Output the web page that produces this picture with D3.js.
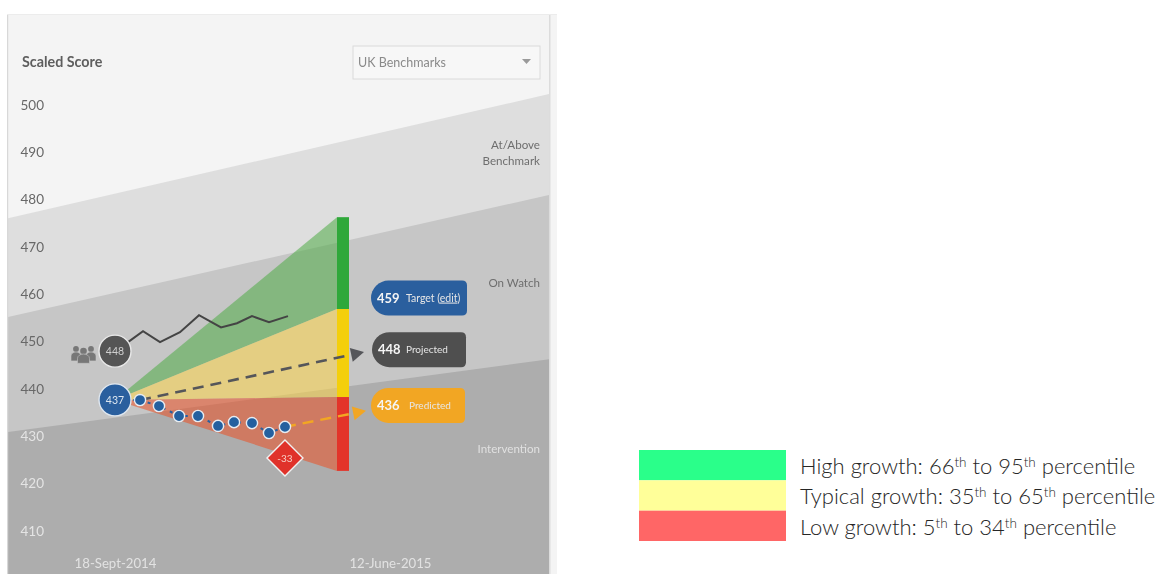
<!DOCTYPE html>
<html><head><meta charset="utf-8">
<script src="https://cdn.jsdelivr.net/npm/d3@7"></script>
<style>
html,body{margin:0;padding:0;background:#fff;overflow:hidden}
svg{display:block}
text{font-family:"Lato","Noto Sans",sans-serif}
</style></head><body>
<svg id="c" width="1160" height="574"></svg>
<script>
// --- data (x is weeks since first test, y is scaled score) ---
const scoreTicks=[500,490,480,470,460,450,440,430,420,410];
const dateLabels=[{week:0,label:"18-Sept-2014"},{week:38,label:"12-June-2015"}];
const bandWeeks=[-17.83,72.33];
const atAboveEdge=[476.1,502.3];
const onWatchEdge=[455.2,481.0];
const interventionEdge=[430.9,446.3];
const coneWeeks=[0,37];
const coneStart=437.7;
const coneEnd=[476.3,456.9,438.3,422.7];
const groupLine=[[0,448],[2.17,449.9],[4.67,452.2],[7.5,449.9],[10.83,452],[14,455.6],[17.67,453],[20.33,453.9],[22.83,455.4],[25.67,454.1],[28.83,455.4]];
const studentScores=[[4.17,437.67],[7.33,436.4],[10.67,434.3],[13.83,434.3],[17.17,432.2],[19.83,433],[22.83,432.8],[25.67,430.7],[28.33,432]];
const projectedEnd=[41.5,447.8];
const predictedEnd=[41.83,435.4];
const legendRows=[
 {color:"#2aff8a",parts:["High growth: 66","th"," to 95","th"," percentile"]},
 {color:"#ffff99",parts:["Typical growth: 35","th"," to 65","th"," percentile"]},
 {color:"#ff6666",parts:["Low growth: 5","th"," to 34","th"," percentile"]}];
const pills=[
 {value:459,label:"Target (",link:"edit",tail:")",fill:"#2a5f9e",dy:-1,x0:371,x1:467,off:35,size:10.5},
 {value:448,label:"Projected",fill:"#4f4f4f",dy:-1.5,x0:372,x1:466,off:34,size:10},
 {value:436,label:"Predicted",fill:"#f2a623",dy:-2.5,x0:371,x1:465,off:38,size:10}];

const svg=d3.select("#c");
const x=d3.scaleLinear().domain([0,38]).range([115,343]);
const y=d3.scaleLinear().domain([500,410]).range([105,531]);
const chart=svg.append("g").attr("style","filter:blur(0.6px)");

// panel
chart.append("rect").attr("x",7).attr("y",14).attr("width",550).attr("height",560).attr("fill","#f4f4f4");
const defs=svg.append("defs");
defs.append("clipPath").attr("id","p").append("rect").attr("x",8).attr("y",14).attr("width",541).attr("height",560);
const band=d3.area().x((d,i)=>x(bandWeeks[i])).y0(574).y1(d=>y(d));
const bands=chart.append("g").attr("clip-path","url(#p)");
[[atAboveEdge,"#dedede"],[onWatchEdge,"#c6c6c6"],[interventionEdge,"#adadad"]].forEach(([e,c])=>bands.append("path").attr("d",band(e)).attr("fill",c));
chart.append("rect").attr("x",7).attr("y",14).attr("width",1.2).attr("height",560).attr("fill","#d8d8d8");
chart.append("rect").attr("x",549).attr("y",14).attr("width",1.5).attr("height",560).attr("fill","#dcdcdc");
chart.append("rect").attr("x",7).attr("y",14).attr("width",550).attr("height",1).attr("fill","#ececec");

chart.append("text").attr("x",22).attr("y",67).attr("font-size",14.3).attr("font-weight",700).attr("fill","#5e5e5e").text("Scaled Score");

// dropdown
chart.append("rect").attr("x",353).attr("y",46).attr("width",187).attr("height",33).attr("fill","#f7f7f7").attr("stroke","#dadada").attr("stroke-width",1);
chart.append("text").attr("x",358).attr("y",67).attr("font-size",12.5).attr("fill","#8a8a8a").text("UK Benchmarks");
chart.append("path").attr("d","M522,59h9l-4.5,5z").attr("fill","#9a9a9a");

// axes
const yAxis=chart.append("g").attr("transform","translate(44,0)")
 .call(d3.axisLeft(y).tickValues(scoreTicks).tickSize(0).tickPadding(0));
yAxis.select(".domain").remove();
yAxis.selectAll("text").attr("font-size",13.5).attr("font-family","Lato,sans-serif")
 .attr("fill",d=>d<=430?"#e4e4e4":"#686868");
const xAxis=chart.append("g").attr("transform","translate(0,560)")
 .call(d3.axisBottom(x).tickValues(dateLabels.map(d=>d.week)).tickFormat(w=>dateLabels.find(d=>d.week===w).label).tickSize(0).tickPadding(0));
xAxis.select(".domain").remove();
xAxis.selectAll("text").attr("font-size",13.2).attr("font-family","Lato,sans-serif").attr("fill","#e2e2e2")
 .attr("dy","0.6em").attr("dx",d=>d===38?47:0);

// band labels
[["At/Above",149,"#6e6e6e"],["Benchmark",165,"#6e6e6e"],["On Watch",287,"#6e6e6e"],["Intervention",453,"#e0e0e0"]].forEach(([t,py,c])=>
 chart.append("text").attr("x",540).attr("y",py).attr("text-anchor","end").attr("font-size",11.6).attr("fill",c).text(t));

// cone
const cone=[[coneEnd[0],coneEnd[1],"#4eac45"],[coneEnd[1],coneEnd[2],"#fed64a"],[coneEnd[2],coneEnd[3],"#eb5024"]];
const coneArea=d3.area().x(d=>x(d.w)).y0(d=>y(d.lo)).y1(d=>y(d.hi));
cone.forEach(([hi,lo,c])=>chart.append("path")
 .attr("d",coneArea([{w:coneWeeks[0],hi:coneStart,lo:coneStart},{w:coneWeeks[1],hi,lo}]))
 .attr("fill",c).attr("fill-opacity",0.55));
// gauge bar
const barColors=["#2fa83a","#f4cf0b","#e3342a"];
cone.forEach(([hi,lo],i)=>chart.append("rect").attr("x",x(38)-6).attr("width",12)
 .attr("y",y(hi)).attr("height",y(lo)-y(hi)).attr("fill",barColors[i]));

const ln=d3.line().x(d=>x(d[0])).y(d=>y(d[1]));
// group line
chart.append("path").attr("d",ln(groupLine)).attr("fill","none").attr("stroke","#444").attr("stroke-width",2);

// arrows
function arrow(a,b,c,w){
 const p=[x(a[0]),y(a[1])],q=[x(b[0]),y(b[1])],ang=Math.atan2(q[1]-p[1],q[0]-p[0]);
 const L=13,H=7,bx=q[0]-L*Math.cos(ang),by=q[1]-L*Math.sin(ang);
 chart.append("line").attr("x1",p[0]).attr("y1",p[1]).attr("x2",bx).attr("y2",by)
  .attr("stroke",c).attr("stroke-width",w).attr("stroke-dasharray","11,7");
 chart.append("path").attr("d",`M${q}L${bx-H*Math.sin(ang)},${by+H*Math.cos(ang)}L${bx+H*Math.sin(ang)},${by-H*Math.cos(ang)}Z`).attr("fill",c);
}
arrow(studentScores[0],projectedEnd,"#55565a",2.6);
arrow(studentScores[8],predictedEnd,"#f2a623",2.4);
chart.append("path").attr("d",ln(studentScores)).attr("fill","none").attr("stroke","#2a5f9e").attr("stroke-width",2).attr("stroke-dasharray","3,5");
chart.append("line").attr("x1",x(0)).attr("y1",y(coneStart)).attr("x2",x(4.17)).attr("y2",y(437.67)).attr("stroke","#2a5f9e").attr("stroke-width",2).attr("stroke-dasharray","3,3");

// student points
chart.selectAll("circle.s").data(studentScores).join("circle").attr("class","s")
 .attr("cx",d=>x(d[0])).attr("cy",d=>y(d[1])).attr("r",5.6)
 .attr("fill","#24609f").attr("stroke","#e6ecf2").attr("stroke-width",1.4);

// start circles
chart.append("circle").attr("cx",x(0)).attr("cy",y(448)).attr("r",16).attr("fill","#555").attr("stroke","#e8e8e8").attr("stroke-width",1.4);
chart.append("text").attr("x",x(0)).attr("y",y(448)+4).attr("text-anchor","middle").attr("font-size",10.5).attr("fill","#cfcfcf").text("448");
chart.append("circle").attr("cx",x(0)).attr("cy",y(coneStart)).attr("r",16).attr("fill","#2a5f9e").attr("stroke","#dfe7f0").attr("stroke-width",1.4);
chart.append("text").attr("x",x(0)).attr("y",y(coneStart)+4).attr("text-anchor","middle").attr("font-size",10.5).attr("fill","#dce6f0").text("437");

// people icon
const icon=chart.append("g").attr("fill","#777");
[[76,349,2.9,10],[91,349,2.9,10],[83.5,351,3.3,12]].forEach(([cx,cy,r,w])=>{
 icon.append("circle").attr("cx",cx).attr("cy",cy).attr("r",r);
 icon.append("path").attr("d",`M${cx-w/2},${cy+r+9}v-5a${w/2},${r+1} 0 0 1 ${w},0v5z`).attr("stroke","#c6c6c6").attr("stroke-width",.6);
});

// deviation diamond
const dx=x(28.33),dy=y(425.4);
chart.append("path").attr("d",`M${dx},${dy-18}L${dx+18},${dy}L${dx},${dy+18}L${dx-18},${dy}Z`).attr("fill","#e0322a").attr("stroke","#f1f1f1").attr("stroke-width",1.4);
chart.append("text").attr("x",dx).attr("y",dy+4).attr("text-anchor","middle").attr("font-size",10).attr("fill","#f7d0c8").text("-33");

// value pills
pills.forEach(p=>{
 const cy=y(p.value)+p.dy,h=35,t=cy-h/2,b=cy+h/2,r=5;
 chart.append("path").attr("d",`M${p.x0+h/2},${t}H${p.x1-r}Q${p.x1},${t} ${p.x1},${t+r}V${b-r}Q${p.x1},${b} ${p.x1-r},${b}H${p.x0+h/2}A${h/2},${h/2} 0 0 1 ${p.x0+h/2},${t}Z`).attr("fill",p.fill);
 chart.append("text").attr("x",p.x0+6).attr("y",cy+4.5).attr("font-size",13).attr("font-weight",700).attr("fill","#f5f5f5").text(p.value);
 const tx=chart.append("text").attr("x",p.x0+p.off).attr("y",cy+3.5).attr("font-size",p.size).attr("fill","#e6e6e6");
 tx.append("tspan").text(p.label);
 if(p.link){tx.append("tspan").attr("text-decoration","underline").text(p.link);tx.append("tspan").text(p.tail);}
});

// legend
const ly=d3.scaleBand().domain(legendRows.map((d,i)=>i)).range([450,541]);
legendRows.forEach((r,i)=>{
 svg.append("rect").attr("x",639).attr("y",ly(i)).attr("width",147).attr("height",ly.bandwidth()).attr("fill",r.color);
 const t=svg.append("text").attr("x",800).attr("y",ly(i)+24-7).attr("dy","0.35em").attr("font-size",22).attr("font-weight",300).attr("fill","#262626");
 r.parts.forEach(s=>{
  if(s==="th") t.append("tspan").attr("dy",-7).attr("font-size",13.5).text(s);
  else t.append("tspan").attr("dy",t.selectAll("tspan").size()?7:0).text(s);
 });
});
</script></body></html>
